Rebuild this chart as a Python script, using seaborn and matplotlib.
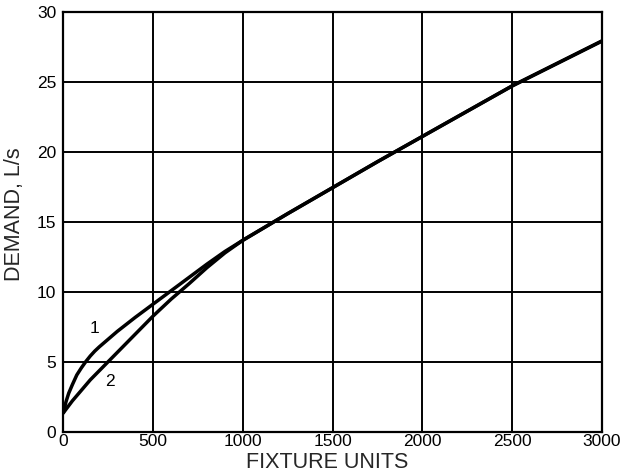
import matplotlib
matplotlib.use("Agg")
import matplotlib.pyplot as plt
import seaborn as sns
import pandas as pd

# Demand curves: 1 = predominantly flush valves, 2 = predominantly flush tanks
fixture_units_1 = [0, 15, 30, 50, 75, 100, 125, 150, 175, 200, 250, 300, 400, 500, 600, 700, 800, 900, 1000,
                   1250, 1500, 1750, 2000, 2250, 2500, 2750, 3000]
demand_1 = [1.4, 2.2, 2.8, 3.4, 4.1, 4.6, 5.05, 5.45, 5.8, 6.1, 6.65, 7.2, 8.2, 9.15, 10.1, 11.05, 12.0, 12.9, 13.7,
            15.6, 17.45, 19.3, 21.1, 22.9, 24.7, 26.3, 27.9]

fixture_units_2 = [0, 50, 100, 150, 200, 250, 300, 400, 500, 600, 650, 700, 800, 900, 1000,
                   1250, 1500, 1750, 2000, 2250, 2500, 2750, 3000]
demand_2 = [1.4, 2.25, 3.0, 3.75, 4.4, 5.05, 5.7, 7.0, 8.3, 9.5, 10.05, 10.6, 11.75, 12.8, 13.7,
            15.6, 17.45, 19.3, 21.1, 22.9, 24.7, 26.3, 27.9]

x_ticks = [0, 500, 1000, 1500, 2000, 2500, 3000]
y_ticks = [0, 5, 10, 15, 20, 25, 30]

curve_labels = ["1", "2"]
label_pos_x = [172, 262]
label_pos_y = [7.4, 3.6]

sns.set_style("white")
plt.rcParams["font.family"] = ["Liberation Sans", "DejaVu Sans"]

fig = plt.figure(figsize=(6.21, 4.72), dpi=100)
ax = fig.add_axes([0.102, 0.0837, 0.8674, 0.8919])

df1 = pd.DataFrame({"fu": fixture_units_1, "q": demand_1})
df2 = pd.DataFrame({"fu": fixture_units_2, "q": demand_2})
sns.lineplot(data=df1, x="fu", y="q", ax=ax, color="black", linewidth=2.5, zorder=3)
sns.lineplot(data=df2, x="fu", y="q", ax=ax, color="black", linewidth=2.5, zorder=3)

ax.set_xlim(0, 3000)
ax.set_ylim(0, 30)
ax.set_xticks(x_ticks)
ax.set_yticks(y_ticks)
ax.grid(True, color="black", linewidth=1.4)
ax.set_axisbelow(True)
for sp in ax.spines.values():
    sp.set_visible(True)
    sp.set_color("black")
    sp.set_linewidth(1.6)
ax.tick_params(axis="both", length=0, labelsize=12.5, colors="black")
ax.tick_params(axis="x", pad=1)
ax.tick_params(axis="y", pad=5)

for t, xx, yy in zip(curve_labels, label_pos_x, label_pos_y):
    ax.text(xx, yy, t, fontsize=12.5, ha="center", va="center", color="black")

ax.set_xlabel("FIXTURE UNITS", fontsize=15.5)
ax.set_ylabel("DEMAND, L/s", fontsize=15.5)
ax.xaxis.set_label_coords(0.49, -0.046)
ax.yaxis.set_label_coords(-0.071, 0.519)

fig.savefig("out.png", dpi=100)
